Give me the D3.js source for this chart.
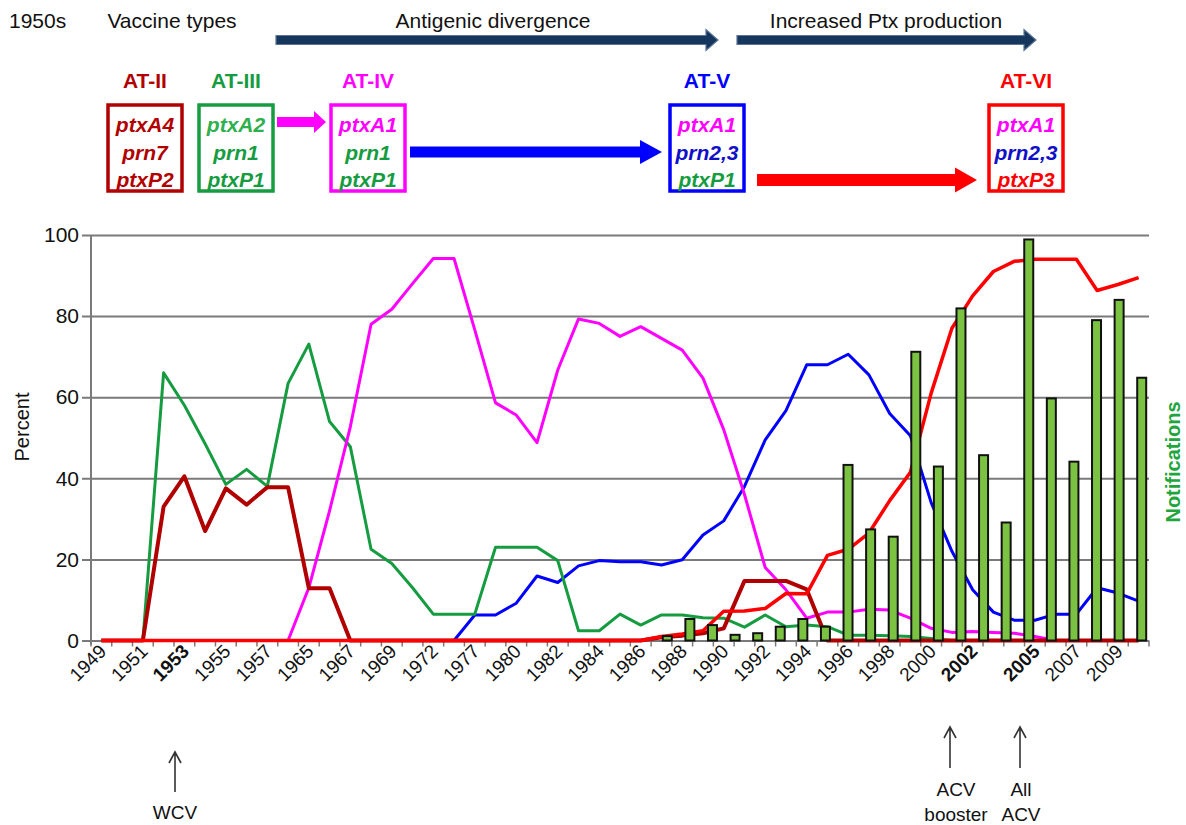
<!DOCTYPE html>
<html>
<head>
<meta charset="utf-8">
<script src="https://cdn.jsdelivr.net/npm/d3@7"></script>
<style>
  body { margin: 0; background: #fff; }
  svg { font-family: "Liberation Sans", Arial, Helvetica, sans-serif; }
</style>
</head>
<body>
<div id="chart"></div>
<script>
// ---------------- data ----------------
// x categories of the line chart (not all consecutive years)
const years = ["1949", "1950", "1951", "1952", "1953", "1954", "1955", "1956", "1957", "1958",
  "1965", "1966", "1967", "1968", "1969", "1970", "1972", "1975", "1977", "1979",
  "1980", "1981", "1982", "1983", "1984", "1985", "1986", "1987", "1988", "1989",
  "1990", "1991", "1992", "1993", "1994", "1995", "1996", "1997", "1998", "1999",
  "2000", "2001", "2002", "2003", "2004", "2005", "2006", "2007", "2008", "2009", "2010"];

const tickYears = ["1949", "1951", "1953", "1955", "1957", "1965", "1967", "1969", "1972", "1977",
  "1980", "1982", "1984", "1986", "1988", "1990", "1992", "1994", "1996", "1998",
  "2000", "2002", "2005", "2007", "2009"];
const boldYears = ["1953", "2002", "2005"];

// percent of isolates per allele lineage (null = not plotted)
const atIII = [0, 0, 0, 66, 58, 48.5, 38.5, 42.2, 38, 63.4,
  73.1, 54, 47.8, 22.5, 19, 13, 6.5, 6.5, 6.5, 23,
  23, 23, 19.7, 2.4, 2.4, 6.5, 3.8, 6.3, 6.3, 5.6,
  5.5, 3.3, 6.3, 3.4, 3.8, 3.4, 1.3, 1.3, 1.2, 1,
  0.5, 0, 0, 0, 0, 0, 0, 0, 0, 0, 0];

const atII = [0, 0, 0, 33, 40.5, 27, 37.5, 33.5, 37.8, 37.8,
  12.9, 12.9, 0, 0, 0, 0, 0, 0, 0, 0,
  0, 0, 0, 0, 0, 0, 0, 0.8, 1.2, 1.8,
  3, 14.7, 14.7, 14.7, 12.6, 0, 0, 0, 0, 0,
  0, 0, 0, 0, 0, 0, 0, 0, 0, 0, 0];

const ptxA1 = [null, null, null, null, null, null, null, null, null, 0,
  13, 32, 52.7, 78, 81.7, 88, 94.2, 94.2, 76.6, 58.6,
  55.6, 48.8, 66.7, 79.3, 78.2, 75, 77.4, 74.5, 71.6, 64.7,
  52, 36, 18, 12.5, 5.5, 7, 7, 7.7, 7.5, 5.5,
  3, 2, 2.2, 2, 1.8, 1, 0, null, null, null, null];

const prn23 = [null, null, null, null, null, null, null, null, null, null,
  null, null, null, null, null, null, null, 0, 6.3, 6.3,
  9.2, 15.9, 14.3, 18.4, 19.7, 19.4, 19.4, 18.6, 19.9, 26,
  29.5, 38, 49.5, 56.7, 68, 68, 70.6, 65.5, 56, 50.5,
  34, 22, 12.5, 7, 5, 5, 6.5, 6.5, 13, 11.7, 9.7];

const ptxP3 = [0, 0, 0, 0, 0, 0, 0, 0, 0, 0,
  0, 0, 0, 0, 0, 0, 0, 0, 0, 0,
  0, 0, 0, 0, 0, 0, 0, 1, 1.6, 2.4,
  7.2, 7.3, 7.9, 11.6, 11.5, 21, 22.5, 26.5, 34.5, 41.5,
  61, 77, 85, 91, 93.5, 94, 94, 94, 86.3, 87.8, 89.5];

// notifications (relative bar heights, no scale shown)
const notifYears = ["1988", "1989", "1990", "1991", "1992", "1993", "1994", "1995", "1996", "1997",
  "1998", "1999", "2000", "2001", "2002", "2003", "2004", "2005", "2006", "2007", "2008", "2009"];
const notifications = [1.1, 5.3, 3.8, 1.4, 1.8, 3.4, 5.3, 3.4, 43.3, 27.4,
  25.6, 71.2, 42.9, 81.9, 45.7, 29.1, 98.9, 59.7, 44.1, 79.0, 84.0, 64.8];

const yTicks = [0, 20, 40, 60, 80, 100];

// header: allelic types and their alleles
const typeNames = ["AT-II", "AT-III", "AT-IV", "AT-V", "AT-VI"];
const typeAlleles = [
  ["ptxA4", "prn7", "ptxP2"],
  ["ptxA2", "prn1", "ptxP1"],
  ["ptxA1", "prn1", "ptxP1"],
  ["ptxA1", "prn2,3", "ptxP1"],
  ["ptxA1", "prn2,3", "ptxP3"]
];

// ---------------- styles ----------------
const C = {
  darkred: "#b10000",
  green: "#169c40",
  lightgreen: "#2fb04e",
  magenta: "#ff00ff",
  blue: "#0000ff",
  red: "#ff0000",
  grid: "#7a7a7a",
  bar: "#7cc242"
};
const typeColor = [C.darkred, C.green, C.magenta, C.blue, C.red];
const alleleColor = {
  ptxA4: C.darkred, prn7: C.darkred, ptxP2: C.darkred,
  ptxA2: C.lightgreen, prn1: C.green, ptxP1: C.green,
  ptxA1: C.magenta, "prn2,3": "#1010c8", ptxP3: C.red
};

const width = 1186, height = 825;
const svg = d3.select("#chart").append("svg")
  .attr("width", width)
  .attr("height", height);

// ---------------- header ----------------
const header = svg.append("g").style("font-size", "21px").attr("fill", "#111");
header.append("text").attr("x", 9).attr("y", 28).text("1950s");
header.append("text").attr("x", 172).attr("y", 28).attr("text-anchor", "middle").text("Vaccine types");
header.append("text").attr("x", 493).attr("y", 28).attr("text-anchor", "middle").text("Antigenic divergence");
header.append("text").attr("x", 886).attr("y", 28).attr("text-anchor", "middle").text("Increased Ptx production");

function arrowPath(x1, x2, yc, sh, hh, hl) {
  return "M" + x1 + "," + (yc - sh / 2) +
    "L" + (x2 - hl) + "," + (yc - sh / 2) +
    "L" + (x2 - hl) + "," + (yc - hh / 2) +
    "L" + x2 + "," + yc +
    "L" + (x2 - hl) + "," + (yc + hh / 2) +
    "L" + (x2 - hl) + "," + (yc + sh / 2) +
    "L" + x1 + "," + (yc + sh / 2) + "Z";
}

// period arrows
[[276, 718], [737, 1036]].forEach(a => {
  svg.append("path")
    .attr("d", arrowPath(a[0], a[1], 40, 9, 21, 12))
    .attr("fill", "#17365d")
    .attr("stroke", "#5c7594")
    .attr("stroke-width", 1.2);
});

// type boxes
const boxX = [108, 199, 331, 670, 989];
const boxW = 74, boxTop = 105, boxH = 86;
typeNames.forEach((name, i) => {
  const cx = boxX[i] + boxW / 2;
  svg.append("text")
    .attr("x", cx).attr("y", 88)
    .attr("text-anchor", "middle")
    .style("font-size", "21px").style("font-weight", "bold")
    .attr("fill", typeColor[i])
    .text(name);
  svg.append("rect")
    .attr("x", boxX[i]).attr("y", boxTop)
    .attr("width", boxW).attr("height", boxH)
    .attr("fill", "#fff")
    .attr("stroke", typeColor[i])
    .attr("stroke-width", 3.5);
  typeAlleles[i].forEach((al, j) => {
    svg.append("text")
      .attr("x", cx).attr("y", 132 + j * 27.5)
      .attr("text-anchor", "middle")
      .style("font-size", "21px").style("font-weight", "bold").style("font-style", "italic")
      .attr("fill", alleleColor[al])
      .text(al);
  });
});

// transition arrows between types
svg.append("path").attr("d", arrowPath(277, 326, 122, 10, 22, 12)).attr("fill", C.magenta);
svg.append("path").attr("d", arrowPath(410, 662, 152, 11, 24, 22)).attr("fill", C.blue);
svg.append("path").attr("d", arrowPath(757, 977, 180, 12, 25, 22)).attr("fill", C.red);

// ---------------- chart ----------------
const plot = { left: 91, right: 1149, top: 235, bottom: 640.5 };

const x = d3.scaleBand().domain(years).range([plot.left, plot.right]);
const xc = d => x(d) + x.bandwidth() / 2;
const y = d3.scaleLinear().domain([0, 100]).range([plot.bottom, plot.top]);

const xBar = d3.scaleBand().domain(notifYears).range([656, 1153]);
const yBar = d3.scaleLinear().domain([0, 100]).range([plot.bottom, plot.top]);

// y gridlines and labels
const yAxis = svg.append("g")
  .attr("transform", "translate(82,0)")
  .call(d3.axisLeft(y).tickValues(yTicks).tickSize(-(plot.right - 82)).tickPadding(3));
yAxis.select(".domain").remove();
yAxis.selectAll(".tick line").attr("stroke", C.grid).attr("stroke-width", 2);
yAxis.selectAll(".tick text")
  .attr("fill", "#111")
  .style("font-size", "21px")
  .style("font-family", "'Liberation Sans', Arial, sans-serif");

// vertical axis line
svg.append("line")
  .attr("x1", plot.left).attr("x2", plot.left)
  .attr("y1", plot.top).attr("y2", plot.bottom + 4)
  .attr("stroke", C.grid).attr("stroke-width", 2);

// x tick marks at category boundaries
svg.append("g").selectAll("line")
  .data(years.concat(["end"]))
  .join("line")
  .attr("x1", d => d === "end" ? plot.right : x(d))
  .attr("x2", d => d === "end" ? plot.right : x(d))
  .attr("y1", plot.bottom)
  .attr("y2", plot.bottom + 6)
  .attr("stroke", C.grid)
  .attr("stroke-width", 1.5);

// x labels, rotated
svg.append("g").selectAll("text")
  .data(tickYears)
  .join("text")
  .attr("transform", d => "translate(" + (xc(d) + 6) + "," + (plot.bottom + 12) + ") rotate(-45)")
  .attr("text-anchor", "end")
  .style("font-size", "19px")
  .style("font-weight", d => boldYears.includes(d) ? "bold" : "normal")
  .attr("fill", "#111")
  .text(d => d);

// axis titles
svg.append("text")
  .attr("transform", "translate(29,427) rotate(-90)")
  .attr("text-anchor", "middle")
  .style("font-size", "20px")
  .attr("fill", "#111")
  .text("Percent");

svg.append("text")
  .attr("transform", "translate(1180,462) rotate(-90)")
  .attr("text-anchor", "middle")
  .style("font-size", "20px")
  .style("font-weight", "bold")
  .attr("fill", "#1ea53c")
  .text("Notifications");

// lines
const line = d3.line()
  .defined(d => d[1] !== null)
  .x(d => xc(d[0]))
  .y(d => y(d[1]));

const series = [
  { values: prn23, color: C.blue, w: 3 },
  { values: atIII, color: C.green, w: 3 },
  { values: ptxA1, color: C.magenta, w: 3 },
  { values: atII, color: C.darkred, w: 4 },
  { values: ptxP3, color: C.red, w: 3.5 }
];

series.forEach(s => {
  svg.append("path")
    .datum(years.map((yr, i) => [yr, s.values[i]]))
    .attr("d", line)
    .attr("fill", "none")
    .attr("stroke", s.color)
    .attr("stroke-width", s.w)
    .attr("stroke-linejoin", "round");
});

// notification bars
svg.append("g").selectAll("rect")
  .data(notifYears)
  .join("rect")
  .attr("x", d => xBar(d) + xBar.bandwidth() / 2 - 4.5)
  .attr("width", 9)
  .attr("y", (d, i) => yBar(notifications[i]))
  .attr("height", (d, i) => yBar(0) - yBar(notifications[i]))
  .attr("fill", C.bar)
  .attr("stroke", "#111")
  .attr("stroke-width", 2);

// ---------------- vaccine annotations ----------------
function upArrow(xp, y1, y2) {
  svg.append("path")
    .attr("d", "M" + xp + "," + y2 + "L" + xp + "," + y1 +
      "M" + (xp - 6) + "," + (y1 + 11) + "L" + xp + "," + y1 + "L" + (xp + 6) + "," + (y1 + 11))
    .attr("fill", "none")
    .attr("stroke", "#333")
    .attr("stroke-width", 1.6);
}
const notes = svg.append("g").style("font-size", "19px").attr("fill", "#111").attr("text-anchor", "middle");

upArrow(175, 752, 792);
notes.append("text").attr("x", 175).attr("y", 819).text("WCV");

upArrow(950, 727, 768);
notes.append("text").attr("x", 956).attr("y", 796).text("ACV");
notes.append("text").attr("x", 956).attr("y", 821).text("booster");

upArrow(1020, 727, 768);
notes.append("text").attr("x", 1021).attr("y", 796).text("All");
notes.append("text").attr("x", 1021).attr("y", 821).text("ACV");
</script>
</body>
</html>
